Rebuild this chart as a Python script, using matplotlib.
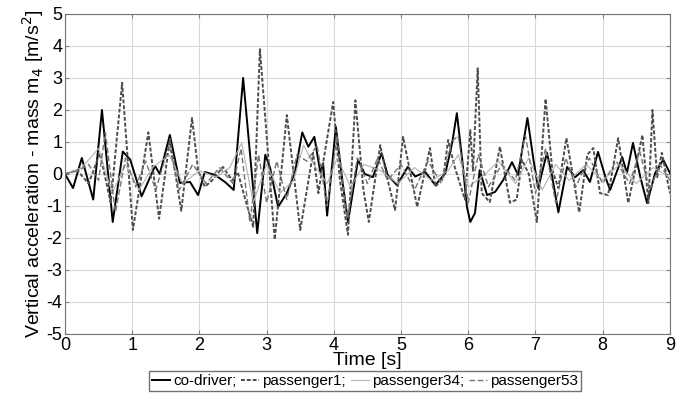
import numpy as np
import matplotlib
matplotlib.use("Agg")
import matplotlib.pyplot as plt

plt.rcParams['font.family'] = ['Liberation Sans', 'DejaVu Sans']
plt.rcParams['axes.unicode_minus'] = False

# vertical acceleration of mass m4 for each seat [m/s^2]
co_t = [0.0, 0.12, 0.25, 0.42, 0.55, 0.71, 0.86, 0.97, 1.14, 1.34, 1.41, 1.56, 1.71, 1.86, 1.98,
        2.08, 2.23, 2.38, 2.51, 2.65, 2.86, 2.98, 3.05, 3.17, 3.3, 3.42, 3.53, 3.62, 3.71, 3.8,
        3.84, 3.9, 4.03, 4.12, 4.21, 4.36, 4.46, 4.58, 4.71, 4.8, 4.94, 5.1, 5.21, 5.36, 5.51,
        5.66, 5.76, 5.83, 5.91, 5.98, 6.03, 6.1, 6.17, 6.28, 6.4, 6.52, 6.65, 6.74, 6.88, 6.97,
        7.04, 7.17, 7.25, 7.34, 7.47, 7.59, 7.71, 7.81, 7.93, 8.04, 8.11, 8.29, 8.36, 8.45, 8.56,
        8.66, 8.78, 8.9, 9.0]
co_v = [0.0, -0.44, 0.5, -0.8, 2.0, -1.5, 0.7, 0.45, -0.7, 0.25, 0.0, 1.22, -0.28, -0.25, -0.66,
        0.06, -0.03, -0.25, -0.5, 3.0, -1.85, 0.6, 0.2, -1.03, -0.6, 0.03, 1.3, 0.85, 1.16, 0.03,
        0.34, -1.3, 1.47, -0.1, -1.5, 0.44, 0.0, -0.1, 0.65, -0.03, -0.35, 0.22, -0.08, 0.06, -0.35,
        0.03, 0.97, 1.9, 0.44, -1.03, -1.5, -1.22, 0.12, -0.66, -0.56, -0.19, 0.37, -0.03, 1.75, 0.44,
        -0.44, 0.66, -0.1, -1.2, 0.22, -0.1, 0.12, -0.25, 0.69, -0.1, -0.5, 0.53, 0.03, 0.97, -0.1,
        -0.91, 0.03, 0.44, 0.03]

p1_t = [0.0, 0.18, 0.35, 0.52, 0.68, 0.85, 1.01, 1.24, 1.4, 1.56, 1.73, 1.89, 1.98, 2.08, 2.19,
        2.35, 2.49, 2.57, 2.71, 2.8, 2.9, 3.12, 3.3, 3.5, 3.69, 3.77, 3.84, 3.99, 4.09, 4.21,
        4.32, 4.44, 4.52, 4.69, 4.79, 4.91, 5.03, 5.24, 5.43, 5.51, 5.63, 5.7, 5.8, 5.95, 6.03,
        6.07, 6.14, 6.2, 6.32, 6.47, 6.62, 6.72, 6.8, 6.9, 7.02, 7.15, 7.25, 7.34, 7.46, 7.65,
        7.77, 7.86, 7.96, 8.08, 8.23, 8.38, 8.59, 8.68, 8.74, 8.81, 8.88, 9.0]
p1_v = [0.0, 0.12, -0.3, 0.65, -0.9, 2.85, -1.75, 1.3, -1.4, 1.1, -1.15, 1.75, 0.12, -0.4, -0.2,
        0.22, -0.2, 0.06, -1.0, -1.65, 3.9, -2.05, 1.84, -1.75, 0.66, -0.6, 0.35, 2.25, -0.19, -1.9,
        2.3, -0.5, -1.5, 0.9, -0.09, -1.13, 1.16, -1.03, 0.81, -0.4, -0.09, 1.06, 0.2, -0.8, 1.37,
        0.1, 3.3, -0.6, -0.88, 0.85, -0.9, -0.8, 0.44, 0.0, -1.5, 2.35, 0.12, -0.44, 1.12, -1.2,
        0.6, 0.81, -0.6, -0.66, 1.12, -0.91, 1.22, -0.91, 2.0, -0.1, 0.66, -0.6]

p34_t = [0.0, 0.25, 0.5, 0.7, 0.9, 1.1, 1.3, 1.55, 1.75, 2.0, 2.25, 2.45, 2.63, 2.8, 3.0,
         3.2, 3.4, 3.55, 3.7, 3.9, 4.05, 4.25, 4.45, 4.7, 4.95, 5.2, 5.45, 5.7, 5.85, 6.0,
         6.2, 6.45, 6.7, 6.9, 7.1, 7.3, 7.5, 7.75, 8.0, 8.25, 8.5, 8.75, 9.0]
p34_v = [0.0, 0.2, 0.8, -0.6, 0.3, -0.5, 0.2, 0.6, -0.3, 0.1, -0.1, 0.2, 0.97, -0.9, 0.3,
         -0.6, -0.2, 0.9, 0.3, -0.3, 0.5, -0.4, 0.3, 0.1, -0.3, 0.2, -0.2, 0.1, 0.6, -0.4,
         -0.1, 0.4, -0.3, 0.5, -0.5, 0.3, -0.2, 0.3, -0.2, 0.3, -0.3, 0.2, -0.1]

p53_t = [0.0, 0.2, 0.35, 0.5, 0.6, 0.75, 0.9, 1.05, 1.2, 1.35, 1.55, 1.7, 1.9, 2.1, 2.3,
         2.5, 2.62, 2.75, 2.88, 3.0, 3.15, 3.3, 3.45, 3.6, 3.75, 3.9, 4.05, 4.2, 4.35, 4.5,
         4.65, 4.8, 5.0, 5.2, 5.4, 5.6, 5.75, 5.85, 6.0, 6.15, 6.3, 6.5, 6.7, 6.85, 7.0,
         7.15, 7.3, 7.45, 7.6, 7.8, 8.0, 8.2, 8.4, 8.55, 8.7, 8.85, 9.0]
p53_v = [0.0, 0.1, 0.3, -0.2, 1.3, -1.2, 0.5, -0.4, 0.4, -0.5, 0.9, -0.5, 0.3, -0.3, 0.2,
         -0.3, 0.8, -1.5, 0.6, -0.9, 0.4, -0.8, 0.6, 0.4, 0.9, -1.0, 1.2, -1.4, 0.5, -0.3,
         0.5, -0.2, 0.3, -0.5, 0.4, -0.3, 1.0, 1.2, -0.9, 0.6, -0.4, 0.3, -0.2, 1.2, -0.6,
         0.8, -0.9, 0.5, -0.4, 0.5, -0.3, 0.4, -0.3, 0.7, -0.5, 0.3, -0.2]

fig = plt.figure(figsize=(6.82, 3.99), dpi=100)
ax = fig.add_axes([0.0953, 0.163, 0.887, 0.802])

ax.plot(co_t, co_v, color="black", lw=1.4, ls="-", solid_joinstyle="round", label="co-driver;")
ax.plot(p1_t, p1_v, color="0.3", lw=1.4, ls=(0, (2, 1)), dash_joinstyle="round", label="passenger1;")
ax.plot(p34_t, p34_v, color="0.7", lw=0.8, ls="-", solid_joinstyle="round", label="passenger34;")
ax.plot(p53_t, p53_v, color="0.45", lw=1.0, ls=(0, (4, 2)), dash_joinstyle="round", label="passenger53")

ax.set_xlim(0, 9)
ax.set_ylim(-5, 5)
ax.set_xticks(np.arange(0, 10))
ax.set_yticks(np.arange(-5, 6))
ax.grid(True, color="0.85", lw=0.8)
ax.tick_params(direction="in", top=True, right=True, labelsize=13, length=3, color="0.5", pad=2)
for s in ax.spines.values():
    s.set_color("0.45")
ax.set_xlabel("Time [s]", fontsize=14, labelpad=-1)
ax.set_ylabel("Vertical acceleration - mass m$_4$ [m/s$^2$]", fontsize=14, labelpad=0)

fig.legend(loc="lower center", bbox_to_anchor=(0.535, 0.0), ncol=4, fontsize=11,
           handlelength=1.2, handletextpad=0.2, columnspacing=0.3, frameon=True,
           fancybox=False, edgecolor="0.3", borderpad=0.2)

fig.savefig("out.png", dpi=100)
